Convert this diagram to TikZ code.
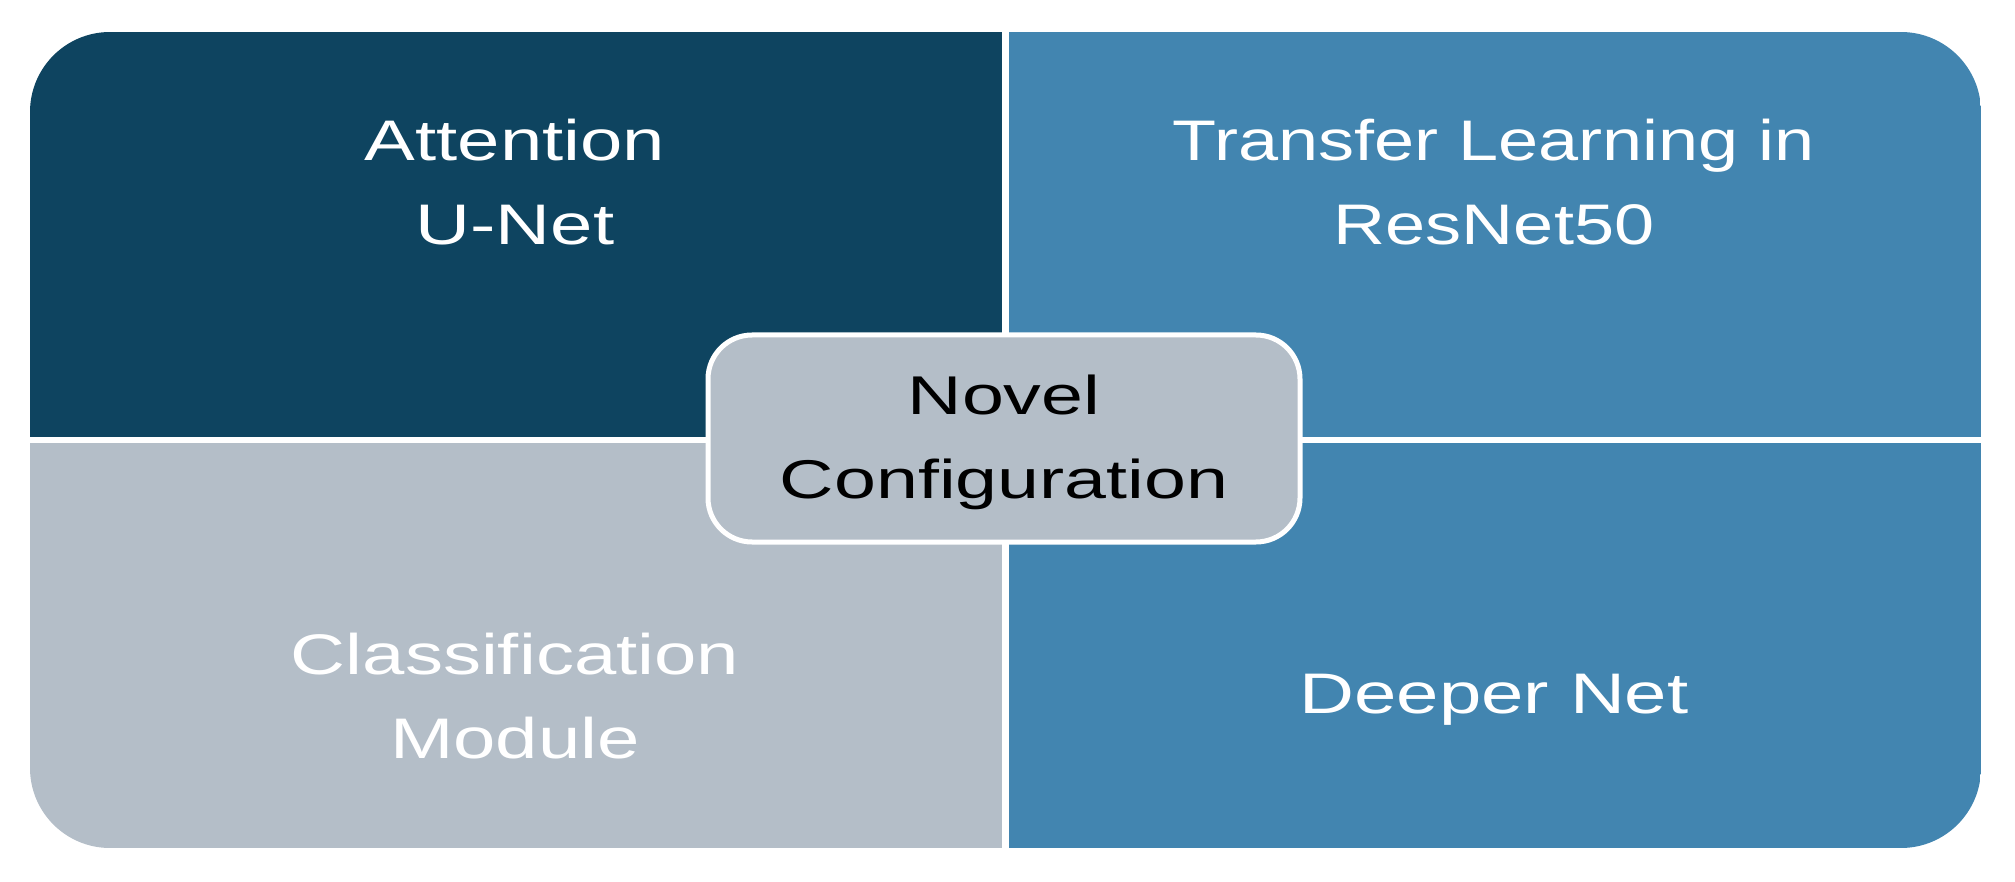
\documentclass[tikz,border=0pt]{standalone}
\usepackage{fontspec}
\setmainfont{Liberation Sans}
\newfontfamily\qfont[FakeStretch=1.33]{Liberation Sans}
\newfontfamily\tfont[FakeStretch=1.26]{Liberation Sans}
\newfontfamily\nfont[FakeStretch=1.38]{Liberation Sans}
\definecolor{darkteal}{HTML}{0E4460}
\definecolor{midblue}{HTML}{4285B0}
\definecolor{lightgray}{HTML}{B4BEC8}
\tikzset{
  qtext/.style={text=white, align=center, inner sep=0pt, font=\qfont\fontsize{28.6}{42}\selectfont},
  ttext/.style={text=white, align=center, inner sep=0pt, font=\tfont\fontsize{28.6}{42}\selectfont},
  centerbox/.style={draw=white, line width=2.5pt, fill=lightgray, rounded corners=22pt},
  ctext/.style={text=black, align=center, inner sep=0pt, font=\nfont\fontsize{27.3}{42}\selectfont},
}
\begin{document}
\begin{tikzpicture}[x=0.5pt, y=-0.5pt]
\useasboundingbox (0,0) rectangle (2015,882);
\begin{scope}
  \clip[rounded corners=40pt] (30,32) rectangle (1981,848);
  \fill[darkteal] (30,32) rectangle (1005,440);
  \fill[midblue] (1005,32) rectangle (1981,440);
  \fill[lightgray] (30,440) rectangle (1005,848);
  \fill[midblue] (1005,440) rectangle (1981,848);
  \draw[white, line width=3.5pt] (1005,20) -- (1005,860);
  \draw[white, line width=3pt] (20,440) -- (1995,440);
\end{scope}
\node[qtext] (tl) at (515,182) {Attention\\U-Net};
\node[ttext] (tr) at (1494,182) {Transfer Learning in\\ResNet50};
\node[qtext] (bl) at (515,696) {Classification\\Module};
\node[qtext] (br) at (1494,700) {Deeper Net};
\draw[centerbox] (708,335) rectangle (1300,542);
\node[ctext] (cc) at (1004,442) {Novel\\Configuration};
\end{tikzpicture}
\end{document}
